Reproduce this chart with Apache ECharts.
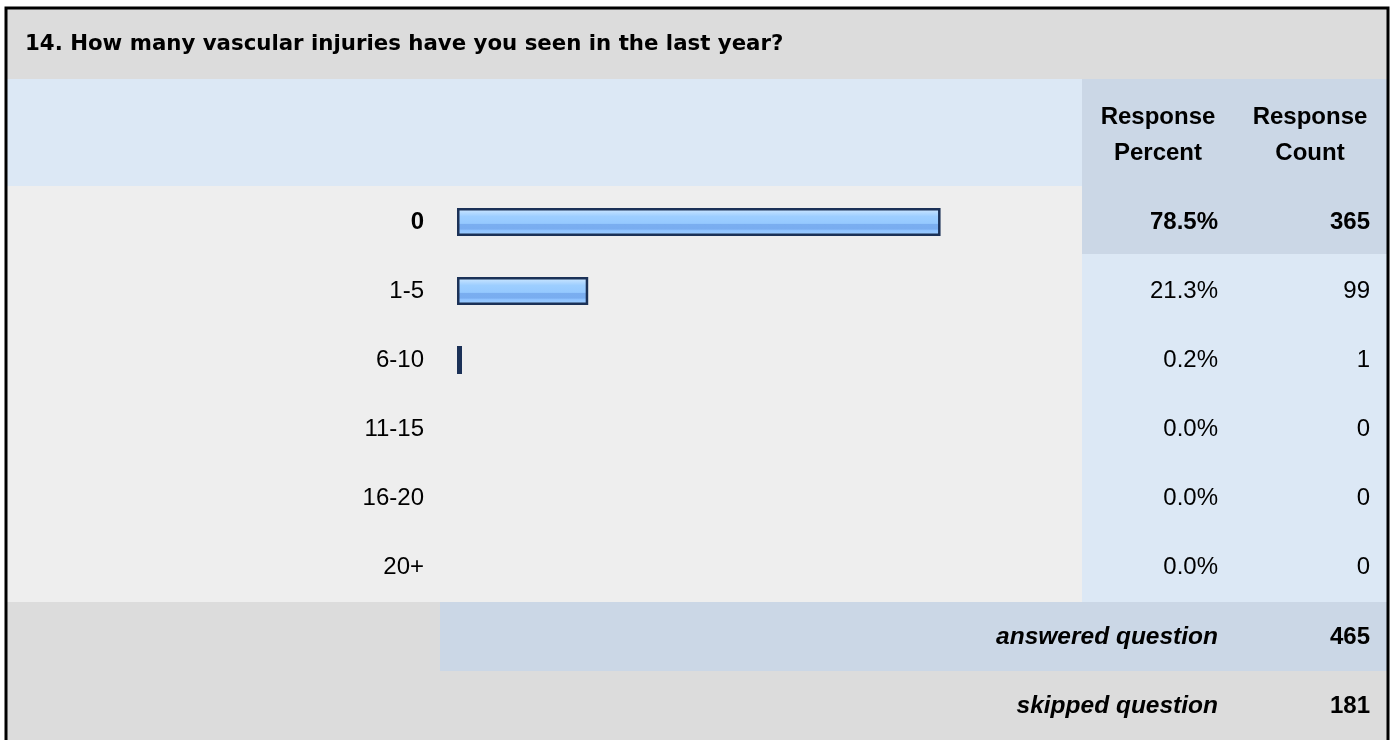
<!DOCTYPE html>
<html><head><meta charset="utf-8">
<script src="https://cdn.jsdelivr.net/npm/echarts@6.0.0/dist/echarts.min.js"></script>
<style>html,body{margin:0;padding:0;background:#fff}#c{width:1394px;height:740px}</style>
</head><body><div id="c"></div>
<script>
// ---- data ----
const questionTitle = '14. How many vascular injuries have you seen in the last year?';
const categories = ['0', '1-5', '6-10', '11-15', '16-20', '20+'];
const percents = [78.5, 21.3, 0.2, 0.0, 0.0, 0.0];
const counts = [365, 99, 1, 0, 0, 0];
const columnHeaders = ['Response\nPercent', 'Response\nCount'];
const summaryLabels = ['answered question', 'skipped question'];
const summaryValues = [465, 181];
const highlightRow = 0;

// ---- layout ----
const FONT = '"Liberation Sans", Arial, sans-serif';
const gridLeft = 457, gridTop = 187.5, gridWidth = 616, gridHeight = 414;
const gridRight = gridLeft + gridWidth;
const pctRight = 1218, cntRight = 1370;

const chart = echarts.init(document.getElementById('c'), null, {renderer: 'canvas'});

function richLabel(txt, i) {
  return i === highlightRow ? '{b|' + txt + '}' : '{n|' + txt + '}';
}
const rich = {
  b: {fontFamily: FONT, fontSize: 24, fontWeight: 'bold', color: '#000'},
  n: {fontFamily: FONT, fontSize: 24, fontWeight: 'normal', color: '#000'}
};
function hiddenAxisBase() {
  return {
    type: 'category', inverse: true,
    axisLine: {show: false}, axisTick: {show: false}, splitLine: {show: false}
  };
}

const rects = [
  {x: 7, y: 9, w: 1380, h: 70, c: '#dcdcdc'},
  {x: 7, y: 79, w: 1075, h: 107, c: '#dce8f5'},
  {x: 1082, y: 79, w: 305, h: 175, c: '#cbd7e6'},
  {x: 7, y: 186, w: 1075, h: 416, c: '#eeeeee'},
  {x: 1082, y: 254, w: 305, h: 348, c: '#dce8f5'},
  {x: 7, y: 602, w: 433, h: 69, c: '#dcdcdc'},
  {x: 440, y: 602, w: 947, h: 69, c: '#cbd7e6'},
  {x: 7, y: 671, w: 1380, h: 69, c: '#dcdcdc'}
];

const graphics = rects.map(r => ({
  type: 'rect', z: -100, silent: true,
  shape: {x: r.x, y: r.y, width: r.w, height: r.h},
  style: {fill: r.c}
}));
graphics.push({
  type: 'rect', z: 100, silent: true,
  shape: {x: 6, y: 8, width: 1382, height: 745},
  style: {fill: 'none', stroke: '#000', lineWidth: 3}
});
graphics.push({
  type: 'text', x: 25, y: 44, z: 10,
  style: {text: questionTitle, fill: '#000', font: 'bold 21.3px "DejaVu Sans", sans-serif', verticalAlign: 'middle', textAlign: 'left'}
});
[1158, 1310].forEach((cx, i) => {
  graphics.push({
    type: 'text', x: cx, y: 135, z: 10,
    style: {text: columnHeaders[i], fill: '#000', font: 'bold 24px ' + FONT, lineHeight: 36, textAlign: 'center', verticalAlign: 'middle'}
  });
});
[637, 706].forEach((cy, i) => {
  graphics.push({
    type: 'text', x: pctRight, y: cy, z: 10,
    style: {text: summaryLabels[i], fill: '#000', font: 'italic bold 24.5px ' + FONT, textAlign: 'right', verticalAlign: 'middle'}
  });
  graphics.push({
    type: 'text', x: cntRight, y: cy, z: 10,
    style: {text: String(summaryValues[i]), fill: '#000', font: 'bold 24px ' + FONT, textAlign: 'right', verticalAlign: 'middle'}
  });
});

const barGradient = new echarts.graphic.LinearGradient(0, 0, 0, 1, [
  {offset: 0, color: '#d4eaff'},
  {offset: 0.15, color: '#b8dcff'},
  {offset: 0.3, color: '#9dceff'},
  {offset: 0.55, color: '#95c9ff'},
  {offset: 0.58, color: '#7aaef0'},
  {offset: 0.75, color: '#79adf0'},
  {offset: 0.8, color: '#8ec2ff'},
  {offset: 1, color: '#a2d1ff'}
]);

chart.setOption({
  animation: false,
  backgroundColor: '#ffffff',
  graphic: graphics,
  grid: {left: gridLeft, top: gridTop, width: gridWidth, height: gridHeight, containLabel: false},
  xAxis: {type: 'value', min: 0, max: 100, show: false},
  yAxis: [
    Object.assign(hiddenAxisBase(), {
      data: categories, position: 'left',
      axisLabel: {margin: gridLeft - 424, formatter: (v, i) => richLabel(v, i), rich: rich}
    }),
    Object.assign(hiddenAxisBase(), {
      data: percents.map(p => p.toFixed(1) + '%'), position: 'right', offset: pctRight - gridRight,
      axisLabel: {margin: 0, align: 'right', formatter: (v, i) => richLabel(v, i), rich: rich}
    }),
    Object.assign(hiddenAxisBase(), {
      data: counts.map(String), position: 'right', offset: cntRight - gridRight,
      axisLabel: {margin: 0, align: 'right', formatter: (v, i) => richLabel(v, i), rich: rich}
    })
  ],
  series: [{
    type: 'bar', yAxisIndex: 0, silent: true,
    data: percents.map(p => p > 0 ? p : '-'),
    barWidth: 28, barMinHeight: 5,
    itemStyle: {color: barGradient, borderColor: '#1b3157', borderWidth: 2.5}
  }]
});
</script></body></html>
